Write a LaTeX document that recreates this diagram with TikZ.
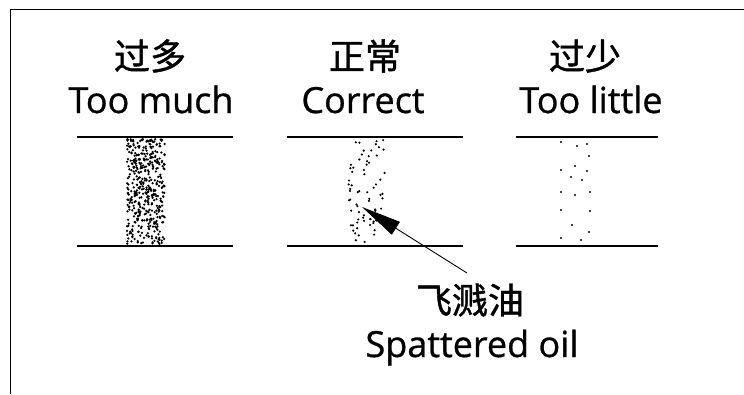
\documentclass[tikz,border=0pt]{standalone}
\usepackage{fontspec}
\setmainfont{Open Sans}
\newfontfamily\lat[FakeBold=0.8]{Open Sans}
\newfontfamily\cjk[FakeBold=1.2]{Noto Sans CJK SC}
\usetikzlibrary{arrows.meta}
\tikzset{
  frameline/.style={line width=1.5pt,black},
  hline/.style={line width=1.3pt,black},
  lbl/.style={inner sep=0pt,font=\lat\fontsize{36}{40}\selectfont},
  dot/.style={fill=black},
  pointer/.style={line width=0.9pt,-{Triangle[length=40pt,width=15pt]}}
}
\begin{document}
\begin{tikzpicture}[x=1pt,y=-1pt]
\useasboundingbox (0,0) rectangle (744,394);
\draw[frameline] (744,9.5) -- (10.5,9.5) -- (10.5,394);
% titles
\node[lbl] (c1) at (150,56) {\cjk 过多};
\node[lbl,anchor=base] (e1) at (151,113) {Too much};
\node[lbl] (c2) at (365,56) {\cjk 正常};
\node[lbl,anchor=base] (e2) at (363,113) {Correct};
\node[lbl] (c3) at (585,56) {\cjk 过少};
\node[lbl,anchor=base] (e3) at (591,113) {Too little};
% lines
\draw[hline] (77,137) -- (233,137);
\draw[hline] (77,246) -- (233,246);
\draw[hline] (287,137) -- (463,137);
\draw[hline] (287,246) -- (463,246);
\draw[hline] (516,137) -- (658,137);
\draw[hline] (516,246) -- (658,246);
% dots column 1
\pgfmathsetseed{11}
\foreach \i in {1,...,450}{
  \pgfmathsetmacro\xx{127+38*rnd}
  \pgfmathsetmacro\yy{139+105*rnd}
  \fill[dot] (\xx,\yy) circle (1.25pt);
}
% dots column 2
\foreach \i in {1,...,45}{
  \pgfmathsetmacro\xx{348+37*rnd}
  \pgfmathsetmacro\yy{140+70*rnd}
  \fill[dot] (\xx,\yy) circle (1.2pt);
}
\foreach \i in {1,...,25}{
  \pgfmathsetmacro\xx{350+28*rnd}
  \pgfmathsetmacro\yy{210+33*rnd}
  \fill[dot] (\xx,\yy) circle (1.2pt);
}
% dots column 3
\foreach \p in {(561,142),(577,146),(587,144),(589,156),(575,166),(561,170),(587,171),(571,177),(582,180),(561,192),(575,195),(590,192),(561,210),(590,211),(572,225),(589,232),(561,238),(581,240)}{
  \fill[dot] \p circle (1.2pt);
}
% annotation
\node[lbl] (c4) at (470,300) {\cjk 飞溅油};
\node[lbl,anchor=base] (e4) at (472,357) {Spattered oil};
\coordinate (tail) at (467,273);
\coordinate (tip) at (362,207);
\draw[pointer] (tail) -- (tip);
\end{tikzpicture}
\end{document}
